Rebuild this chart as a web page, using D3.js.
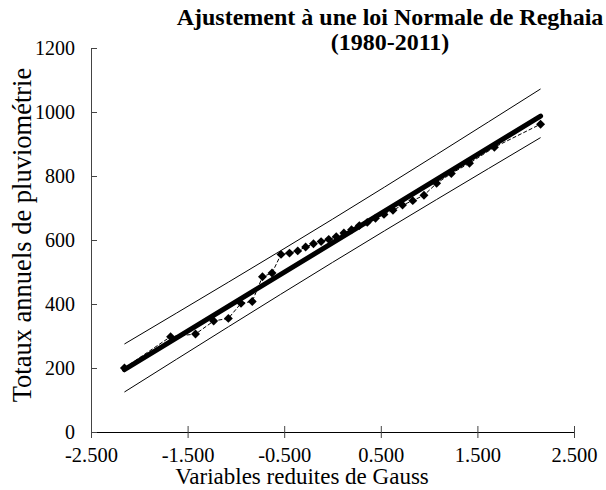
<!DOCTYPE html>
<html><head><meta charset="utf-8">
<script src="https://cdn.jsdelivr.net/npm/d3@7"></script>
<style>body{margin:0;background:#fff}svg{display:block}</style>
</head><body><div id="chart"></div>
<script>
const title = ["Ajustement à une loi Normale de Reghaia", "(1980-2011)"];
const xLabel = "Variables reduites de Gauss";
const yLabel = "Totaux annuels de pluviométrie";
const xTicks = [-2.5, -1.5, -0.5, 0.5, 1.5, 2.5];
const yTicks = [0, 200, 400, 600, 800, 1000, 1200];
// reduced Gauss variable for each observation (32 years)
const gaussVar = [-2.154,-1.676,-1.418,-1.230,-1.078,-0.947,-0.831,-0.725,-0.626,-0.533,-0.445,-0.360,-0.278,-0.197,-0.118,-0.039,
                  0.039,0.118,0.197,0.278,0.360,0.445,0.533,0.626,0.725,0.831,0.947,1.078,1.230,1.418,1.676,2.154];
const rainfall = [200,298,306,347,355,402,408,485,497,555,559,566,578,588,595,602,
                  610,622,632,645,655,668,680,693,709,723,740,777,808,840,890,962];
const fitZ = [-2.154, 2.154];
const fitVal = [195, 987];
const bandZ = [-2.154, 0, 2.154];
const upperVal = [275, 665, 1072];
const lowerVal = [125, 530, 920];

const W = 606, H = 490;
const svg = d3.select("#chart").append("svg").attr("width", W).attr("height", H);
const x = d3.scaleLinear().domain([-2.5, 2.5]).range([91, 574]);
const y = d3.scaleLinear().domain([0, 1200]).range([432, 48]);
const serif = "'Liberation Serif', 'Times New Roman', serif";
const fmtX = d => d3.format(".3f")(d).replace("\u2212", "-");

// axes
const xAxis = d3.axisBottom(x).tickValues(xTicks).tickFormat(fmtX).tickSizeInner(6).tickSizeOuter(0);
const gx = svg.append("g").attr("transform", `translate(0,${y(0)})`).call(xAxis)
  .attr("font-family", serif).attr("font-size", 20.5);
gx.selectAll(".tick line").attr("y1", -6).attr("stroke", "#444");
gx.select(".domain").attr("stroke", "#000");
gx.selectAll("text").attr("fill", "#000").attr("dy", null).attr("y", 30);

const yAxis = d3.axisLeft(y).tickValues(yTicks).tickFormat(d3.format("d")).tickSizeInner(6).tickSizeOuter(0);
const gy = svg.append("g").attr("transform", `translate(${x(-2.5)},0)`).call(yAxis)
  .attr("font-family", serif).attr("font-size", 20);
gy.selectAll(".tick line").attr("x2", 6).attr("stroke", "#444");
gy.select(".domain").attr("stroke", "#444");
gy.selectAll("text").attr("fill", "#000").attr("x", -16);

const line = d3.line().x(d => x(d[0])).y(d => y(d[1]));
const lineC = d3.line().x(d => x(d[0])).y(d => y(d[1])).curve(d3.curveNatural);

// confidence bands
svg.append("path").datum(bandZ.map((z, i) => [z, upperVal[i]])).attr("d", lineC)
  .attr("fill", "none").attr("stroke", "#000").attr("stroke-width", 1);
svg.append("path").datum(bandZ.map((z, i) => [z, lowerVal[i]])).attr("d", lineC)
  .attr("fill", "none").attr("stroke", "#000").attr("stroke-width", 1);

// fitted line
svg.append("path").datum(fitZ.map((z, i) => [z, fitVal[i]])).attr("d", line)
  .attr("fill", "none").attr("stroke", "#000").attr("stroke-width", 5).attr("stroke-linecap", "round");

// observations line
const pts = gaussVar.map((z, i) => [z, rainfall[i]]);
svg.append("path").datum(pts).attr("d", line)
  .attr("fill", "none").attr("stroke", "#000").attr("stroke-width", 1).attr("stroke-dasharray", "4,2");
svg.selectAll(".pt").data(pts).enter().append("path").attr("class", "pt")
  .attr("d", d3.symbol().type(d3.symbolSquare).size(40))
  .attr("transform", d => `translate(${x(d[0])},${y(d[1])}) rotate(45)`)
  .attr("fill", "#000");

// titles
svg.append("text").attr("x", 390).attr("y", 25).attr("text-anchor", "middle")
  .attr("font-family", serif).attr("font-weight", "bold").attr("font-size", 24).text(title[0]);
svg.append("text").attr("x", 390).attr("y", 50).attr("text-anchor", "middle")
  .attr("font-family", serif).attr("font-weight", "bold").attr("font-size", 24).text(title[1]);
svg.append("text").attr("x", 302).attr("y", 484).attr("text-anchor", "middle")
  .attr("font-family", serif).attr("font-size", 23).text(xLabel);
svg.append("text").attr("transform", "translate(31,235) rotate(-90)").attr("text-anchor", "middle")
  .attr("font-family", serif).attr("font-size", 26.5).text(yLabel);
</script></body></html>
